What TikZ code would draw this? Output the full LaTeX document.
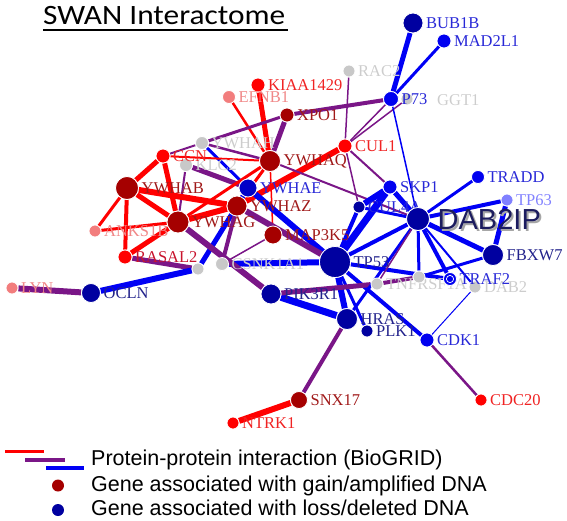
\documentclass[tikz,border=0pt]{standalone}
\usepackage{fontspec}
\setmainfont{Liberation Serif}
\newfontfamily\lgfont{Liberation Sans}
\newfontfamily\ttlfont{Carlito}
\usetikzlibrary{backgrounds}
\definecolor{cDR}{RGB}{165,0,0}
\definecolor{cR}{RGB}{255,0,0}
\definecolor{cPk}{RGB}{242,125,125}
\definecolor{cGy}{RGB}{200,200,200}
\definecolor{cDB}{RGB}{0,0,160}
\definecolor{cB}{RGB}{0,0,240}
\definecolor{cYE}{RGB}{0,0,200}
\definecolor{cLB}{RGB}{128,128,255}
\definecolor{tDR}{RGB}{160,25,25}
\definecolor{tR}{RGB}{240,35,35}
\definecolor{tRs}{RGB}{200,20,45}
\definecolor{tPk}{RGB}{240,135,135}
\definecolor{tGy}{RGB}{205,205,205}
\definecolor{tDB}{RGB}{35,35,140}
\definecolor{tB}{RGB}{40,40,215}
\definecolor{tLB}{RGB}{130,130,255}
\definecolor{ecR}{RGB}{255,0,0}
\definecolor{ecP}{RGB}{122,22,135}
\definecolor{ecB}{RGB}{0,0,245}
\definecolor{dabc}{RGB}{28,28,95}
\begin{document}
\begin{tikzpicture}[x=1pt,y=-1pt,
  nd/.style={circle, draw=white, line width=0.8pt, inner sep=0pt, minimum size=#1},
  every label/.style={font=\fontsize{16.5}{18}\selectfont, inner sep=1pt},
  label distance=1.5pt,
  eR/.style={draw=ecR, line width=#1pt},
  eP/.style={draw=ecP, line width=#1pt},
  eB/.style={draw=ecB, line width=#1pt},
  lgtext/.style={font=\lgfont\fontsize{21.5}{24}\selectfont, anchor=base west, inner sep=0pt},
  freelbl/.style={font=\fontsize{16.5}{18}\selectfont, inner sep=1pt, anchor=west}]
\useasboundingbox (0,0) rectangle (567,520);

% ---------- nodes ----------
\node[nd=20pt, fill=cDB, label={[text=tB]right:BUB1B}] (bub1b) at (413,23) {};
\node[nd=14pt, fill=cB, label={[text=tB]right:MAD2L1}] (mad2l1) at (444,41) {};
\node[nd=12pt, fill=cGy, label={[text=tGy]right:RAC2}] (rac2) at (349,71) {};
\node[nd=12pt, fill=cGy] (ggt1) at (407,99) {};
\node[freelbl, text=tGy] (ggtlbl) at (436,100) {GGT1};
\node[nd=15pt, fill=cB, label={[text=tB]right:P73}] (p73) at (391,99) {};
\node[nd=14pt, fill=cR, label={[text=tR]right:KIAA1429}] (kiaa) at (258,85) {};
\node[nd=13pt, fill=cPk, label={[text=tPk]right:EFNB1}] (efnb1) at (229,97) {};
\node[nd=14pt, fill=cDR, label={[text=tDR]right:XPO1}] (xpo1) at (287,115) {};
\node[nd=14pt, fill=cR, label={[text=tR]right:CUL1}] (cul1) at (345,146) {};
\node[nd=13pt, fill=cGy, label={[text=tGy]right:YWHAH}] (ywhah) at (202,143) {};
\node[nd=13pt, fill=cGy, label={[text=tGy]right:KLC2}] (klc2) at (186,165) {};
\node[nd=14pt, fill=cR, label={[text=tR]right:CCN}] (ccn) at (163,156) {};
\node[nd=21pt, fill=cDR, label={[text=tDR]right:YWHAQ}] (ywhaq) at (270,161) {};
\node[nd=12pt, fill=cPk, label={[text=tPk]right:ANKS1B}] (anks) at (95,231) {};
\node[nd=23pt, fill=cDR, label={[text=tDR]right:YWHAB}] (ywhab) at (127,188) {};
\node[nd=14pt, fill=cR, label={[text=tRs]right:RASAL2}] (rasal2) at (125,257) {};
\node[nd=22pt, fill=cDR, label={[text=tDR]right:YWHAG}] (ywhag) at (178,222) {};
\node[nd=18pt, fill=cYE, label={[text=tB]right:YWHAE}] (ywhae) at (248,188) {};
\node[nd=20pt, fill=cDR, label={[text=tDR]right:YWHAZ}] (ywhaz) at (237,206) {};
\node[nd=18pt, fill=cDR, label={[text=tDR]right:MAP3K5}] (map3k5) at (273,235) {};
\node[nd=12pt, fill=cGy] (gray1) at (198,269) {};
\node[nd=13pt, fill=cGy, label={[text=tGy]right:CSNK1A1}] (csnk) at (222,264) {};
\node[nd=12pt, fill=cPk, label={[text=tPk]right:LYN}] (lyn) at (12,288) {};
\node[nd=19pt, fill=cDB, label={[text=tDB]right:OCLN}] (ocln) at (91,293) {};
\node[nd=20pt, fill=cDB, label={[text=tDB]right:PIK3R1}] (pik3r1) at (271,294) {};
\node[nd=12pt, fill=cGy, label={[text=tGy]right:TNFRSF1A}] (tnfrsf) at (377,284) {};
\node[nd=31pt, fill=cDB, label={[text=tDB]right:TP53}] (tp53) at (335,262) {};
\node[nd=21pt, fill=cDB, label={[text=tDB]right:HRAS}] (hras) at (347,319) {};
\node[nd=12pt, fill=cDB, label={[text=tDB]right:PLK1}] (plk1) at (367,331) {};
\node[nd=14pt, fill=cB, label={[text=tB]right:CDK1}] (cdk1) at (427,340) {};
\node[nd=12pt, fill=cR, label={[text=tR]right:CDC20}] (cdc20) at (481,400) {};
\node[nd=17pt, fill=cDR, label={[text=tDR]right:SNX17}] (snx17) at (299,400) {};
\node[nd=12pt, fill=cR, label={[text=tR]right:NTRK1}] (ntrk1) at (233,423) {};
\node[nd=14pt, fill=cB, label={[text=tB]right:SKP1}] (skp1) at (390,187) {};
\node[nd=12pt, fill=cDB, label={[text=tB]right:CUL4A}] (cul4a) at (359,207) {};
\node[nd=13pt, fill=cB, label={[text=tB]right:TRADD}] (tradd) at (478,177) {};
\node[nd=12pt, fill=cLB, label={[text=tLB]right:TP63}] (tp63) at (507,200) {};
\node[nd=12pt, fill=cGy, label={[text=tGy]right:DAB2}] (dab2) at (475,287) {};
\node[nd=12pt, fill=cGy] (grayT) at (419,277) {};
\node[nd=13pt, fill=cB, label={[text=tB]right:TRAF2},
  path picture={\draw[white, line width=0.7pt] (path picture bounding box.center) circle (3.6pt);}] (traf2) at (450,279) {};
\node[nd=21pt, fill=cDB, label={[text=tDB]right:FBXW7}] (fbxw7) at (493,255) {};
\node[nd=23pt, fill=cDB] (dab2ip) at (418,219) {};
\node[font=\lgfont\fontsize{29}{32}\selectfont, text=gray!70, anchor=west, inner sep=0pt] (dabshadow) at (439.5,221) {DAB2IP};
\node[font=\lgfont\fontsize{29}{32}\selectfont, text=dabc, anchor=west, inner sep=0pt] (dablbl) at (437.5,219) {DAB2IP};

% ---------- edges ----------
\begin{scope}[on background layer]
\draw[eR=5] (kiaa) -- (ywhaq);
\draw[eR=2.5] (efnb1) -- (ywhaq);
\draw[eP=5] (xpo1) -- (ywhaq);
\draw[eP=3] (xpo1) -- (ywhah);
\draw[eP=4] (xpo1) -- (p73);
\draw[eP=2.5] (ywhah) -- (ywhaq);
\draw[eP=2] (ywhah) -- (ccn);
\draw[eB=3] (ywhah) -- (ywhae);
\draw[eP=5] (klc2) -- (ywhae);
\draw[eP=2] (klc2) -- (ywhag);
\draw[eR=5] (ccn) -- (ywhab);
\draw[eR=5] (ccn) -- (ywhag);
\draw[eR=2] (ccn) -- (ywhaq);
\draw[eR=5] (ywhab) -- (ywhag);
\draw[eR=6] (ywhab) -- (ywhaz);
\draw[eR=3] (ywhab) -- (anks);
\draw[eR=4] (ywhab) -- (rasal2);
\draw[eR=3] (anks) -- (ywhag);
\draw[eR=5] (rasal2) -- (ywhag);
\draw[eR=6] (ywhag) -- (ywhaz);
\draw[eR=3] (ywhag) -- (ywhaq);
\draw[eR=3] (ywhaz) -- (ywhaq);
\draw[eR=1.5] (ywhaq) -- (map3k5);
\draw[eR=6] (cul1) -- (ywhaz);
\draw[eB=6] (ywhae) -- (tp53);
\draw[eP=2] (ywhaq) -- (dab2ip);
\draw[eP=6] (ywhaz) -- (tp53);
\draw[eP=5] (rasal2) -- (gray1);
\draw[eB=6] (gray1) -- (ocln);
\draw[eB=5] (gray1) -- (ywhae);
\draw[eB=6] (csnk) -- (tp53);
\draw[eP=4] (csnk) -- (ywhaz);
\draw[eP=1.5] (csnk) -- (map3k5);
\draw[eP=6] (ywhag) -- (pik3r1);
\draw[eP=6] (lyn) -- (ocln);
\draw[eP=2] (cul1) -- (skp1);
\draw[eP=1.5] (cul1) -- (cul4a);
\draw[eP=1.5] (cul1) -- (p73);
\draw[eP=1.5] (ggt1) -- (cul1);
\draw[eP=1.5] (rac2) -- (cul1);
\draw[eB=5] (bub1b) -- (p73);
\draw[eB=3] (mad2l1) -- (p73);
\draw[eB=1.5] (p73) -- (dab2ip);
\draw[eB=7] (tp53) -- (skp1);
\draw[eB=4] (tp53) -- (cul4a);
\draw[eB=4] (tp53) -- (dab2ip);
\draw[eB=4] (tp53) -- (traf2);
\draw[eB=6] (tp53) -- (hras);
\draw[eB=3] (tp53) -- (plk1);
\draw[eB=4] (tp53) -- (cdk1);
\draw[eB=7] (pik3r1) -- (hras);
\draw[eP=5] (pik3r1) -- (tnfrsf);
\draw[eP=4] (tnfrsf) -- (grayT);
\draw[eP=4] (hras) -- (snx17);
\draw[eR=6] (snx17) -- (ntrk1);
\draw[eP=2.5] (cdk1) -- (cdc20);
\draw[eB=1] (cdk1) -- (dab2);
\draw[eB=3] (hras) -- (dab2ip);
\draw[eP=1.5] (tnfrsf) -- (dab2ip);
\draw[eB=5] (dab2ip) -- (skp1);
\draw[eB=3] (dab2ip) -- (cul4a);
\draw[eB=3] (dab2ip) -- (tradd);
\draw[eB=4] (dab2ip) -- (tp63);
\draw[eB=5] (dab2ip) -- (fbxw7);
\draw[eB=4] (dab2ip) -- (traf2);
\draw[eB=2] (dab2ip) -- (dab2);
\draw[eB=3] (dab2ip) -- (grayT);
\draw[eB=5] (fbxw7) -- (tp63);
\draw[eB=3] (fbxw7) -- (grayT);
\draw[eB=6] (skp1) -- (cul4a);
\end{scope}

% ---------- title ----------
\node[font=\ttlfont\fontsize{28}{32}\selectfont, anchor=base west, inner sep=0pt, xscale=1.12] (title) at (43,24) {SWAN Interactome};
\coordinate (ul1) at (43,30);
\coordinate (ul2) at (288,30);
\draw[line width=2pt] (ul1) -- (ul2);

% ---------- legend ----------
\coordinate (lr1) at (5,451.5);  \coordinate (lr2) at (44,451.5);
\coordinate (lp1) at (25,460);   \coordinate (lp2) at (65,460);
\coordinate (lb1) at (46,468);   \coordinate (lb2) at (84,468);
\draw[draw=ecR, line width=3.5pt] (lr1) -- (lr2);
\draw[draw=ecP, line width=3.5pt] (lp1) -- (lp2);
\draw[draw=ecB, line width=3.5pt] (lb1) -- (lb2);
\node[lgtext] (lg1) at (91,465.5) {Protein-protein interaction (BioGRID)};
\node[circle, fill=cDR, inner sep=0pt, minimum size=12pt] (dotr) at (58,485.5) {};
\node[lgtext] (lg2) at (91,491) {Gene associated with gain/amplified DNA};
\node[circle, fill=cDB, inner sep=0pt, minimum size=12pt] (dotb) at (58,510) {};
\node[lgtext] (lg3) at (91,515) {Gene associated with loss/deleted DNA};
\end{tikzpicture}
\end{document}
